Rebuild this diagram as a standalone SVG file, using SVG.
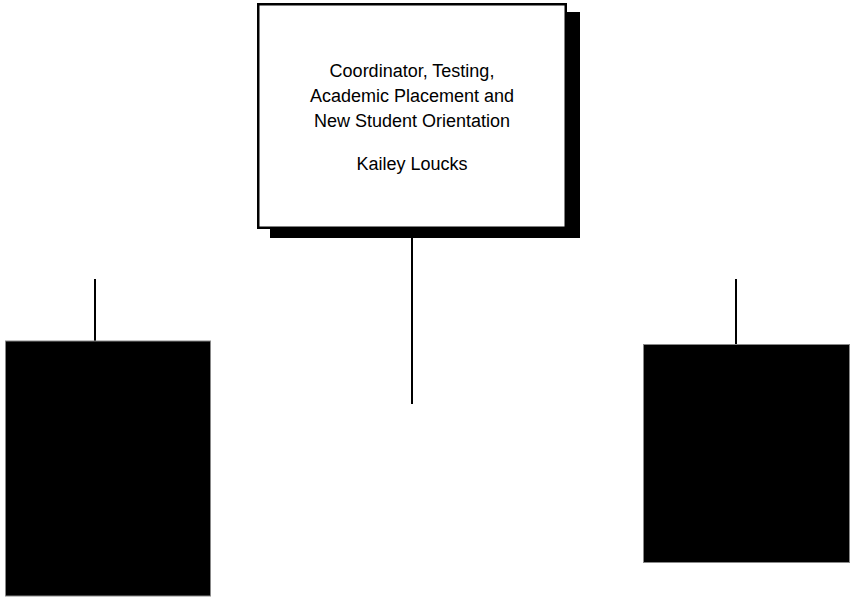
<svg xmlns="http://www.w3.org/2000/svg" width="851" height="599" viewBox="0 0 851 599">
<style>
.lbl{font-family:"Liberation Sans",Arial,sans-serif;font-size:18px;fill:#000;text-anchor:middle}
.conn{stroke:#000;stroke-width:2;fill:none}
.blk{fill:#000;stroke:#888;stroke-width:1}
</style>
<rect width="851" height="599" fill="#fff"/>
<g id="connectors">
<line class="conn" x1="412" y1="228" x2="412" y2="404"/>
<line class="conn" x1="95" y1="279" x2="95" y2="341"/>
<line class="conn" x1="736" y1="279" x2="736" y2="344"/>
</g>
<g id="node-coordinator">
<rect x="270" y="12" width="310" height="226" fill="#000"/>
<rect x="258.25" y="4.25" width="307.5" height="223.5" fill="#fff" stroke="#000" stroke-width="2.5"/>
<text class="lbl" x="412" y="77">Coordinator, Testing,</text>
<text class="lbl" x="412" y="102">Academic Placement and</text>
<text class="lbl" x="412" y="127">New Student Orientation</text>
<text class="lbl" x="412" y="170">Kailey Loucks</text>
</g>
<g id="node-left">
<rect class="blk" x="5.5" y="341" width="205" height="255"/>
</g>
<g id="node-right">
<rect class="blk" x="643.5" y="344.5" width="206" height="218"/>
</g>
</svg>
